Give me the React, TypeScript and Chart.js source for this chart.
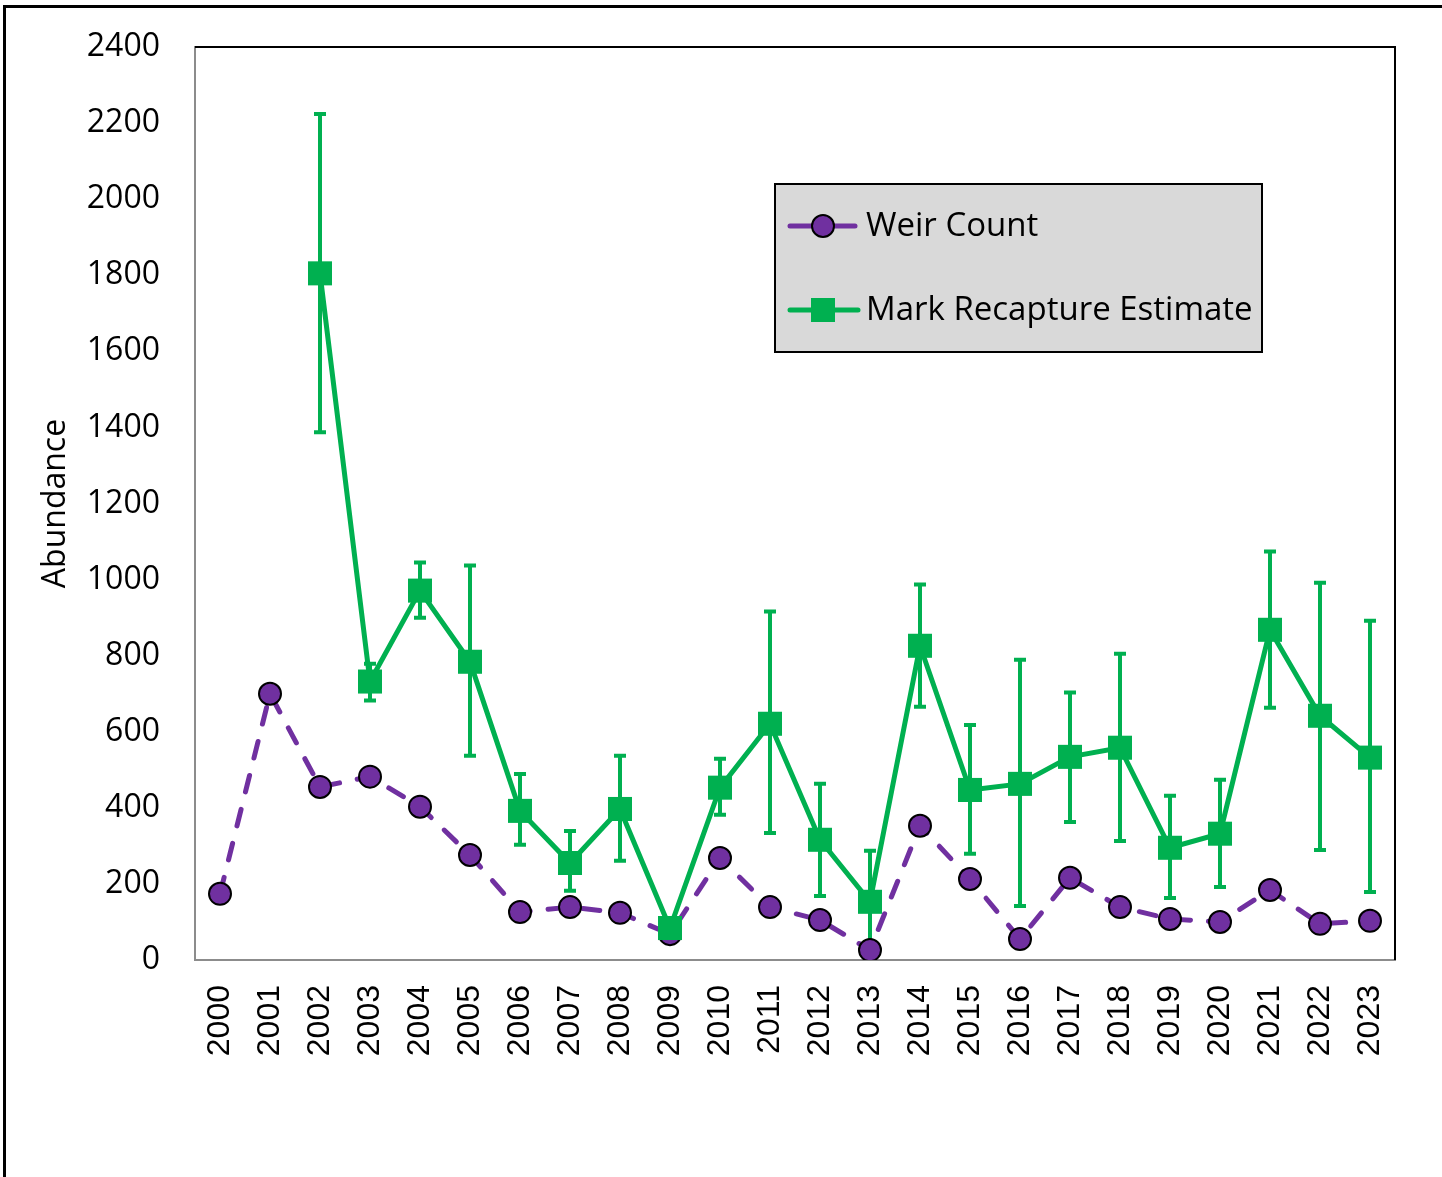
import React, { useEffect, useRef } from "react";
import { Chart, registerables } from "chart.js";

Chart.register(...registerables);

const years = [
  "2000", "2001", "2002", "2003", "2004", "2005", "2006", "2007", "2008", "2009", "2010", "2011",
  "2012", "2013", "2014", "2015", "2016", "2017", "2018", "2019", "2020", "2021", "2022", "2023",
];

const weirCount = [
  174, 700, 455, 482, 403, 276, 126, 139, 124, 68, 268, 139,
  105, 26, 353, 213, 55, 216, 139, 108, 100, 184, 95, 103,
];

const markRecapture = [
  null, null, 1805, 732, 971, 784, 392, 255, 397, 84, 453, 621,
  316, 153, 826, 447, 463, 534, 558, 295, 332, 868, 642, 532,
];

const markRecaptureHigh = [
  null, null, 2224, 779, 1045, 1037, 489, 339, 537, 100, 529, 916,
  463, 287, 987, 618, 789, 703, 805, 432, 474, 1074, 992, 892,
];

const markRecaptureLow = [
  null, null, 1387, 682, 900, 537, 303, 182, 261, 68, 382, 334,
  168, 20, 666, 279, 142, 363, 313, 163, 192, 663, 289, 179,
];

const yTicks = [0, 200, 400, 600, 800, 1000, 1200, 1400, 1600, 1800, 2000, 2200, 2400];

const PURPLE = "#7030a0";
const GREEN = "#00b050";
const GREY = "#8c8c8c";

const errorBarPlugin = {
  id: "errorBars",
  beforeDatasetsDraw(chart: any) {
    const ctx = chart.ctx;
    const x = chart.scales.x;
    const y = chart.scales.y;
    ctx.save();
    ctx.strokeStyle = GREEN;
    ctx.lineWidth = 4;
    ctx.lineCap = "butt";
    for (let i = 0; i < years.length; i++) {
      const hi = markRecaptureHigh[i];
      const lo = markRecaptureLow[i];
      if (hi == null || lo == null) continue;
      const px = x.getPixelForValue(i);
      const yh = y.getPixelForValue(hi);
      const yl = y.getPixelForValue(lo);
      ctx.beginPath();
      ctx.moveTo(px, yh);
      ctx.lineTo(px, yl);
      ctx.moveTo(px - 6, yh);
      ctx.lineTo(px + 6, yh);
      ctx.moveTo(px - 6, yl);
      ctx.lineTo(px + 6, yl);
      ctx.stroke();
    }
    ctx.restore();
  },
};

const framePlugin = {
  id: "frameAndLegend",
  afterDraw(chart: any) {
    const ctx = chart.ctx;
    const a = chart.chartArea;
    ctx.save();
    ctx.strokeStyle = "#000";
    ctx.lineWidth = 2;
    ctx.beginPath();
    ctx.moveTo(a.left, a.top);
    ctx.lineTo(a.right, a.top);
    ctx.lineTo(a.right, a.bottom);
    ctx.stroke();

    // legend box
    const bx = 775, by = 184, bw = 487, bh = 168;
    ctx.fillStyle = "#d9d9d9";
    ctx.fillRect(bx, by, bw, bh);
    ctx.strokeStyle = "#000";
    ctx.lineWidth = 2;
    ctx.strokeRect(bx, by, bw, bh);

    const items = chart.data.datasets.map((d: any) => d.label);
    ctx.font = "33px 'Open Sans'";
    ctx.textBaseline = "middle";
    ctx.textAlign = "left";

    // Weir Count
    let cy = 226;
    ctx.strokeStyle = PURPLE;
    ctx.lineWidth = 5;
    ctx.lineCap = "round";
    ctx.beginPath();
    ctx.moveTo(790, cy);
    ctx.lineTo(855, cy);
    ctx.stroke();
    ctx.beginPath();
    ctx.arc(823, cy, 11, 0, Math.PI * 2);
    ctx.fillStyle = PURPLE;
    ctx.fill();
    ctx.strokeStyle = "#000";
    ctx.lineWidth = 2;
    ctx.stroke();
    ctx.fillStyle = "#000";
    ctx.fillText(items[0], 866, cy + 1);

    // Mark Recapture
    cy = 310;
    ctx.strokeStyle = GREEN;
    ctx.lineWidth = 5;
    ctx.beginPath();
    ctx.moveTo(790, cy);
    ctx.lineTo(858, cy);
    ctx.stroke();
    ctx.fillStyle = GREEN;
    ctx.fillRect(811, cy - 12, 24, 24);
    ctx.fillStyle = "#000";
    ctx.fillText(items[1], 866, cy + 1);
    ctx.restore();
  },
};

export default function App() {
  const ref = useRef<HTMLCanvasElement>(null);
  useEffect(() => {
    if (!ref.current) return;
    const chart = new Chart(ref.current, {
      type: "line",
      data: {
        labels: years,
        datasets: [
          {
            label: "Weir Count",
            data: weirCount,
            borderColor: PURPLE,
            backgroundColor: PURPLE,
            borderWidth: 5,
            borderDash: [17, 18],
            borderCapStyle: "round",
            pointStyle: "circle",
            pointRadius: 11,
            pointBackgroundColor: PURPLE,
            pointBorderColor: "#000",
            pointBorderWidth: 2,
            order: 2,
            tension: 0,
          },
          {
            label: "Mark Recapture Estimate",
            data: markRecapture,
            borderColor: GREEN,
            backgroundColor: GREEN,
            borderWidth: 5,
            pointStyle: "rect",
            pointRadius: 17,
            pointBackgroundColor: GREEN,
            pointBorderColor: GREEN,
            pointBorderWidth: 0,
            order: 1,
            tension: 0,
          },
        ],
      },
      options: {
        responsive: false,
        animation: false,
        events: [],
        layout: { padding: { left: 0, top: 47, right: 47, bottom: 0 } },
        plugins: {
          legend: { display: false },
          tooltip: { enabled: false },
          title: { display: false },
        },
        scales: {
          x: {
            type: "category",
            offset: true,
            grid: { display: false, drawTicks: false },
            border: { display: true, color: GREY, width: 2 },
            ticks: {
              autoSkip: false,
              minRotation: 90,
              maxRotation: 90,
              padding: 25,
              color: "#000",
              font: { family: "'Liberation Sans', Arial", size: 32 },
            },
            afterFit: (s: any) => {
              s.height = 217;
              s.paddingLeft = 0;
              s.paddingRight = 0;
            },
          },
          y: {
            type: "linear",
            min: 0,
            max: 2400,
            afterBuildTicks: (s: any) => {
              s.ticks = yTicks.map((v) => ({ value: v }));
            },
            grid: { display: false, drawTicks: false },
            border: { display: true, color: GREY, width: 2 },
            ticks: {
              padding: 35,
              color: "#000",
              font: { family: "'Open Sans'", size: 32 },
              callback: (v: any) => String(v),
            },
            title: {
              display: true,
              text: "Abundance",
              color: "#000",
              font: { family: "'Open Sans'", size: 32 },
              padding: { top: 37, bottom: 0 },
            },
            afterFit: (s: any) => {
              s.width = 195;
              s.paddingTop = 0;
              s.paddingBottom = 0;
            },
          },
        },
      },
      plugins: [errorBarPlugin, framePlugin],
    } as any);
    return () => chart.destroy();
  }, []);

  return (
    <div style={{ position: "absolute", left: 0, top: 0, width: 1442, height: 1177, overflow: "hidden", background: "#fff" }}>
      <div
        style={{
          position: "absolute",
          left: 3,
          top: 5,
          width: 1500,
          height: 1300,
          borderLeft: "3px solid #000",
          borderTop: "3px solid #000",
          boxSizing: "border-box",
        }}
      />
      <canvas ref={ref} width={1442} height={1177} style={{ position: "absolute", left: 0, top: 0, width: 1442, height: 1177 }} />
    </div>
  );
}
